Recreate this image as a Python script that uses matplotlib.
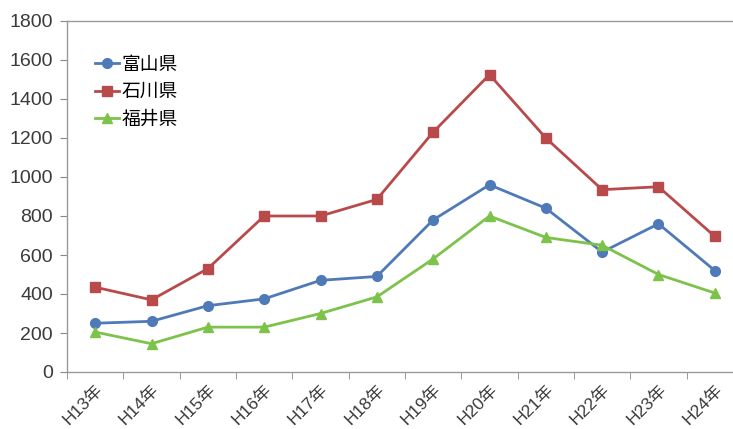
import matplotlib.pyplot as plt

plt.rcParams['font.family'] = ['Liberation Sans', 'Noto Sans CJK JP', 'DejaVu Sans']

years = ["H13年", "H14年", "H15年", "H16年", "H17年", "H18年",
         "H19年", "H20年", "H21年", "H22年", "H23年", "H24年"]
toyama = [250, 260, 340, 375, 470, 490, 780, 960, 840, 615, 760, 520]
ishikawa = [435, 370, 530, 800, 800, 885, 1230, 1525, 1200, 935, 950, 695]
fukui = [205, 145, 230, 230, 300, 385, 580, 800, 690, 650, 500, 405]

series = [("富山県", toyama, "#4F7AB8", "o", 7),
          ("石川県", ishikawa, "#B94A4C", "s", 6.5),
          ("福井県", fukui, "#7DC24A", "^", 7)]

fig = plt.figure(figsize=(7.33, 4.29), dpi=100)
ax = fig.add_axes([67 / 733, 1 - 372 / 429, 676 / 733, 351 / 429])

x = list(range(len(years)))
for name, vals, color, marker, ms in series:
    ax.plot(x, vals, color=color, marker=marker, markersize=ms,
            linewidth=2, label=name)

ax.set_xlim(-0.5, len(years) - 0.5)
ax.set_ylim(0, 1800)
ax.set_yticks(range(0, 1801, 200))
ax.set_xticks(x)
ax.set_xticklabels(years, rotation=45, ha="right", rotation_mode="anchor",
                   fontsize=12.5, color="#3a3a3a")
ax.set_xticks([i - 0.5 for i in range(len(years) + 1)], minor=True)
ax.tick_params(axis="x", which="major", length=0, pad=7)
ax.tick_params(axis="x", which="minor", length=5, color="#888888")
ax.tick_params(axis="y", length=5, color="#888888", labelsize=14,
               labelcolor="#3a3a3a", pad=5)
for spine in ax.spines.values():
    spine.set_color("#999999")
    spine.set_linewidth(1)
ax.spines["right"].set_visible(False)

ax.legend(loc="upper left", bbox_to_anchor=(0.03, 0.92), frameon=False,
          fontsize=13.5, handlelength=1.3, handletextpad=0.15,
          labelspacing=0.55, borderaxespad=0)

fig.savefig("out.png", dpi=100)
